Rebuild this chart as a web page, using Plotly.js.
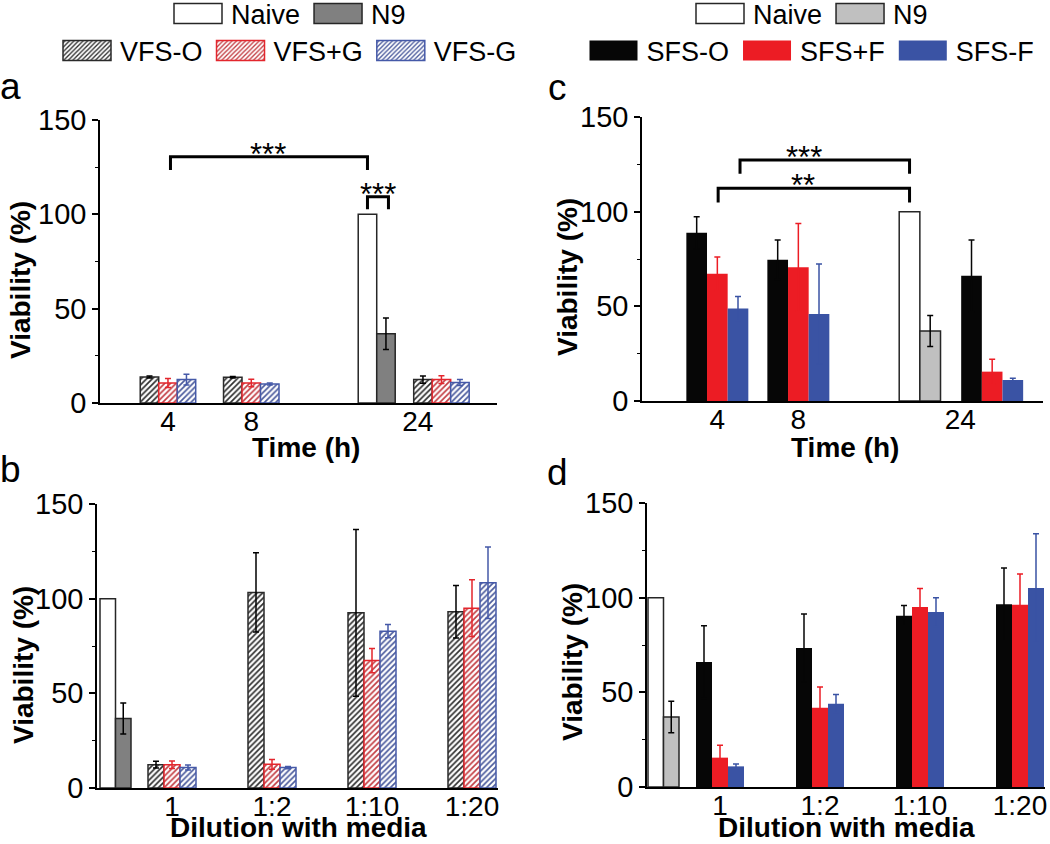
<!DOCTYPE html>
<html>
<head>
<meta charset="utf-8">
<script src="https://cdn.plot.ly/plotly-3.0.1.min.js"></script>
<style>html,body{margin:0;padding:0;background:#fff;}</style>
</head>
<body>
<div id="chart" style="width:1050px;height:844px"></div>
<script>
// ---------------- data ----------------
const times = ['4', '8', '24'];
const timeAxisCats = ['4', '8', ' ', '24'];
const ctrlCat = ' ';
const dilutions = ['1', '1:2', '1:10', '1:20'];
const dilutionAxisCats = [ctrlCat, '1', '1:2', '1:10', '1:20'];
const yTicks = [0, 50, 100, 150];
const yMinorTicks = [25, 75, 125];

// panel a : vaginal fluid simulant vs time
const naiveA = [100];
const n9A = [36.7];            const n9A_sd = [8.4];
const vfsO_time = [13.8, 13.6, 12.4];   const vfsO_time_sd = [0.5, 0.4, 1.9];
const vfsPG_time = [10.6, 10.6, 12.4];  const vfsPG_time_sd = [2.4, 2.0, 2.0];
const vfsMG_time = [12.4, 10.1, 10.9];  const vfsMG_time_sd = [2.9, 0.5, 1.6];

// panel b : vaginal fluid simulant vs dilution
const naiveB = [100];
const n9B = [36.7];            const n9B_sd = [8.2];
const vfsO_dil = [12.3, 103.3, 92.5, 93.1];   const vfsO_dil_sd = [1.8, 20.9, 44.0, 13.9];
const vfsPG_dil = [12.3, 12.5, 67.3, 95.0];   const vfsPG_dil_sd = [2.0, 2.6, 6.4, 15.0];
const vfsMG_dil = [10.8, 10.8, 82.8, 108.4];  const vfsMG_dil_sd = [1.3, 0.6, 3.5, 18.9];

// panel c : seminal fluid simulant vs time
const naiveC = [100];
const n9C = [37.0];            const n9C_sd = [8.2];
const sfsO_time = [88.8, 74.6, 66.1];   const sfsO_time_sd = [8.5, 10.4, 18.9];
const sfsPF_time = [67.2, 70.7, 15.5];  const sfsPF_time_sd = [8.8, 23.1, 6.5];
const sfsMF_time = [48.8, 46.0, 11.1];  const sfsMF_time_sd = [6.4, 26.4, 0.9];

// panel d : seminal fluid simulant vs dilution
const naiveD = [100];
const n9D = [37.0];            const n9D_sd = [8.3];
const sfsO_dil = [66.0, 73.4, 90.5, 96.5];    const sfsO_dil_sd = [19.2, 18.0, 5.3, 19.2];
const sfsPF_dil = [15.5, 41.9, 95.1, 96.3];   const sfsPF_dil_sd = [6.5, 10.9, 9.7, 16.2];
const sfsMF_dil = [10.9, 44.0, 92.4, 105.1];  const sfsMF_dil_sd = [1.2, 4.8, 7.6, 28.7];

// ---------------- styling ----------------
const FONT = 'Liberation Sans, Arial, sans-serif';
const W = 1050, H = 844;
const px = v => v / W;
const py = v => 1 - v / H;

const C = {
  edge: '#262626', naive: '#ffffff', n9dark: '#808080', n9light: '#c0c0c0',
  vfsO: '#2a2a2a', vfsPG: '#e3262d', vfsMG: '#4559a8',
  vfsOhatch: '#2e2e2e', vfsPGhatch: '#c23c42', vfsMGhatch: '#4a5a9c',
  sfsO: '#060606', sfsPF: '#ec1c24', sfsMF: '#3a53a4'
};

function err(arr, color) {
  return arr ? {type: 'data', array: arr, visible: true, color: color, thickness: 1.5, width: 3}
             : {visible: false};
}

function bar(o) {
  const marker = {color: o.fill, line: {color: o.edge, width: o.lw == null ? 1.5 : o.lw}};
  if (o.hatch) marker.pattern = {shape: '/', fgcolor: o.hatch, bgcolor: '#ffffff', size: 4, solidity: 0.42};
  return {
    type: 'bar', name: o.name, x: o.x, y: o.y, width: o.width, offset: o.offset,
    xaxis: o.xa, yaxis: o.ya, marker: marker, error_y: err(o.sd, o.errColor),
    showlegend: !!o.legend, legend: o.legend || 'legend', hoverinfo: 'skip'
  };
}

// group geometry (category units)
const wA = 0.222, shiftA = -0.05;     // panel a
const wC = 0.255, shiftC = 0.01;      // panel c
const wD = 0.16;                      // panels b, d
const ctrlOffset = 0.28, ctrlW = 0.155;
const timeOffsets = (k, w, shift) => times.map(t => t === '24' ? shift + k * w : (k - 1.5) * w);
const dilOffsets = (k, w) => dilutions.map(() => (k - 1.5) * w);

const traces = [];
// ---- panel a
traces.push(bar({name: 'Naive', x: ['24'], y: naiveA, width: wA, offset: [shiftA - 3 * wA], xa: 'x', ya: 'y', fill: C.naive, edge: C.edge, legend: 'legend'}));
traces.push(bar({name: 'N9', x: ['24'], y: n9A, sd: n9A_sd, errColor: '#000', width: wA, offset: [shiftA - 2 * wA], xa: 'x', ya: 'y', fill: C.n9dark, edge: C.edge, legend: 'legend'}));
[[ 'VFS-O', vfsO_time, vfsO_time_sd, C.vfsO, C.vfsOhatch, '#000'],
 [ 'VFS+G', vfsPG_time, vfsPG_time_sd, C.vfsPG, C.vfsPGhatch, C.vfsPG],
 [ 'VFS-G', vfsMG_time, vfsMG_time_sd, C.vfsMG, C.vfsMGhatch, C.vfsMG]].forEach((s, k) => {
  traces.push(bar({name: s[0], x: times, y: s[1], sd: s[2], errColor: s[5], width: wA, offset: timeOffsets(k, wA, shiftA),
    xa: 'x', ya: 'y', fill: '#fff', edge: s[3], hatch: s[4], legend: 'legend2'}));
});
// ---- panel b
traces.push(bar({name: 'Naive', x: [ctrlCat], y: naiveB, width: ctrlW, offset: [ctrlOffset], xa: 'x2', ya: 'y2', fill: C.naive, edge: C.edge}));
traces.push(bar({name: 'N9', x: [ctrlCat], y: n9B, sd: n9B_sd, errColor: '#000', width: ctrlW, offset: [ctrlOffset + ctrlW], xa: 'x2', ya: 'y2', fill: C.n9dark, edge: C.edge}));
[[ 'VFS-O', vfsO_dil, vfsO_dil_sd, C.vfsO, C.vfsOhatch, '#000'],
 [ 'VFS+G', vfsPG_dil, vfsPG_dil_sd, C.vfsPG, C.vfsPGhatch, C.vfsPG],
 [ 'VFS-G', vfsMG_dil, vfsMG_dil_sd, C.vfsMG, C.vfsMGhatch, C.vfsMG]].forEach((s, k) => {
  traces.push(bar({name: s[0], x: dilutions, y: s[1], sd: s[2], errColor: s[5], width: wD, offset: dilOffsets(k, wD),
    xa: 'x2', ya: 'y2', fill: '#fff', edge: s[3], hatch: s[4]}));
});
// ---- panel c
traces.push(bar({name: 'Naive', x: ['24'], y: naiveC, width: wC, offset: [shiftC - 3 * wC], xa: 'x3', ya: 'y3', fill: C.naive, edge: C.edge, legend: 'legend3'}));
traces.push(bar({name: 'N9', x: ['24'], y: n9C, sd: n9C_sd, errColor: '#000', width: wC, offset: [shiftC - 2 * wC], xa: 'x3', ya: 'y3', fill: C.n9light, edge: C.edge, legend: 'legend3'}));
[[ 'SFS-O', sfsO_time, sfsO_time_sd, C.sfsO],
 [ 'SFS+F', sfsPF_time, sfsPF_time_sd, C.sfsPF],
 [ 'SFS-F', sfsMF_time, sfsMF_time_sd, C.sfsMF]].forEach((s, k) => {
  traces.push(bar({name: s[0], x: times, y: s[1], sd: s[2], errColor: s[3], width: wC, offset: timeOffsets(k, wC, shiftC),
    xa: 'x3', ya: 'y3', fill: s[3], edge: s[3], lw: 0, legend: 'legend4'}));
});
// ---- panel d
traces.push(bar({name: 'Naive', x: [ctrlCat], y: naiveD, width: ctrlW, offset: [ctrlOffset], xa: 'x4', ya: 'y4', fill: C.naive, edge: C.edge}));
traces.push(bar({name: 'N9', x: [ctrlCat], y: n9D, sd: n9D_sd, errColor: '#000', width: ctrlW, offset: [ctrlOffset + ctrlW], xa: 'x4', ya: 'y4', fill: C.n9light, edge: C.edge}));
[[ 'SFS-O', sfsO_dil, sfsO_dil_sd, C.sfsO],
 [ 'SFS+F', sfsPF_dil, sfsPF_dil_sd, C.sfsPF],
 [ 'SFS-F', sfsMF_dil, sfsMF_dil_sd, C.sfsMF]].forEach((s, k) => {
  traces.push(bar({name: s[0], x: dilutions, y: s[1], sd: s[2], errColor: s[3], width: wD, offset: dilOffsets(k, wD),
    xa: 'x4', ya: 'y4', fill: s[3], edge: s[3], lw: 0}));
});

// ---------------- axes ----------------
const tickFontX = {family: FONT, size: 28, color: '#000'};
const tickFontY = {family: FONT, size: 29, color: '#000'};
const titleFont = {family: FONT, size: 28, color: '#000', weight: 'bold'};
function axX(dom, anchor, cats, range) {
  return {domain: dom, anchor: anchor, type: 'category', categoryorder: 'array', categoryarray: cats, range: range,
    showline: true, linecolor: '#000', linewidth: 1.5, ticks: '', showgrid: false, zeroline: false,
    tickfont: tickFontX, ticklabelstandoff: -7, fixedrange: true, automargin: false};
}
function axY(dom, anchor) {
  return {domain: dom, anchor: anchor, range: [0, 150], tickmode: 'array', tickvals: yTicks,
    ticks: 'outside', ticklen: 6, tickwidth: 1.5, tickcolor: '#000',
    minor: {tickmode: 'array', tickvals: yMinorTicks, ticks: 'outside', ticklen: 3.5, tickwidth: 1.2, tickcolor: '#000', showgrid: false},
    showline: true, linecolor: '#000', linewidth: 1.5, showgrid: false, zeroline: false,
    tickfont: tickFontY, fixedrange: true, automargin: false};
}

// significance brackets (category-index units on x, data units on y)
const bracket = (xa, ya, x0, x1, yTop, yLeg) => ({
  type: 'path', xref: xa, yref: ya, path: `M${x0},${yLeg} L${x0},${yTop} L${x1},${yTop} L${x1},${yLeg}`,
  line: {color: '#000', width: 3}
});
const naiveCenterA = 3 + shiftA - 2.5 * wA, n9CenterA = 3 + shiftA - 1.5 * wA;
const naiveCenterC = 3 + shiftC - 2.5 * wC;
const shapes = [
  bracket('x', 'y', 0.03, naiveCenterA, 130.5, 123.5),
  bracket('x', 'y', naiveCenterA, n9CenterA + 0.03, 109.3, 102.7),
  bracket('x3', 'y3', 0.28, naiveCenterC, 127.3, 120.0),
  bracket('x3', 'y3', 0.01, naiveCenterC, 112.4, 104.8)
];

const star = (xa, ya, x, y, t) => ({xref: xa, yref: ya, x: x, y: y, text: t, showarrow: false,
  xanchor: 'center', yanchor: 'bottom', yshift: -17, font: {family: FONT, size: 31, color: '#000'}});
const letter = (t, x, y) => ({xref: 'paper', yref: 'paper', x: px(x), y: py(y), text: t, showarrow: false,
  xanchor: 'left', yanchor: 'middle', font: {family: FONT, size: 37, color: '#000'}});
const ytitle = (x, y) => ({xref: 'paper', yref: 'paper', x: px(x), y: py(y), text: 'Viability (%)', textangle: -90,
  showarrow: false, xanchor: 'center', yanchor: 'middle', font: titleFont});
const xtitle = (t, x, y, anchor) => ({xref: 'paper', yref: 'paper', x: px(x), y: py(y), text: t,
  showarrow: false, xanchor: 'center', yanchor: anchor || 'middle', borderpad: 0, font: titleFont});

const annotations = [
  star('x', 'y', 1.2, 130.5, '***'),
  star('x', 'y', 2.52, 109.3, '***'),
  star('x3', 'y3', 1.07, 127.3, '***'),
  star('x3', 'y3', 1.06, 112.4, '**'),
  letter('a', -2, 86), letter('b', -2, 469), letter('c', 546, 88), letter('d', 545, 472),
  ytitle(20, 280), ytitle(23, 665), ytitle(567, 277), ytitle(572, 662),
  xtitle('Time (h)', 306, 447), xtitle('Time (h)', 845, 447),
  xtitle('Dilution with media', 298, 844, 'bottom'), xtitle('Dilution with media', 846, 844, 'bottom')
];

const legendBase = (x, y) => ({x: px(x), y: py(y), xanchor: 'center', yanchor: 'middle', orientation: 'h',
  font: {family: FONT, size: 27, color: '#000'}, bgcolor: 'rgba(0,0,0,0)', itemwidth: 56,
  itemclick: false, itemdoubleclick: false, traceorder: 'normal'});

const layout = {
  width: W, height: H, autosize: false,
  margin: {l: 0, r: 0, t: 0, b: 0, pad: 0, autoexpand: false},
  paper_bgcolor: '#fff', plot_bgcolor: 'rgba(0,0,0,0)',
  barmode: 'overlay', hovermode: false,
  font: {family: FONT, color: '#000'},
  xaxis:  axX([px(100), px(497)], 'y',  timeAxisCats,     [-0.816, 3.95]),
  yaxis:  axY([py(403), py(120)], 'x'),
  xaxis2: axX([px(97),  px(498)], 'y2', dilutionAxisCats, [0.25, 4.26]),
  yaxis2: axY([py(788), py(504)], 'x2'),
  xaxis3: axX([px(642), px(1043)], 'y3', timeAxisCats,    [-0.93, 4.02]),
  yaxis3: axY([py(401), py(117)], 'x3'),
  xaxis4: axX([px(647), px(1045)], 'y4', dilutionAxisCats, [0.27, 4.25]),
  yaxis4: axY([py(787), py(503)], 'x4'),
  legend:  legendBase(288, 14),
  legend2: legendBase(288, 51),
  legend3: legendBase(810, 14),
  legend4: legendBase(810, 51),
  shapes: shapes,
  annotations: annotations
};

function widenSwatches() {
  // enlarge legend swatches to the wide boxes of the original figure
  document.querySelectorAll('#chart g.legendpoints path').forEach(p => p.setAttribute('d', 'M24,10H-24V-10H24Z'));
}
Plotly.newPlot('chart', traces, layout, {displayModeBar: false, responsive: false}).then(gd => {
  widenSwatches();
  gd.on('plotly_afterplot', widenSwatches);
  setTimeout(widenSwatches, 50);
  setTimeout(widenSwatches, 300);
});
</script>
</body>
</html>
